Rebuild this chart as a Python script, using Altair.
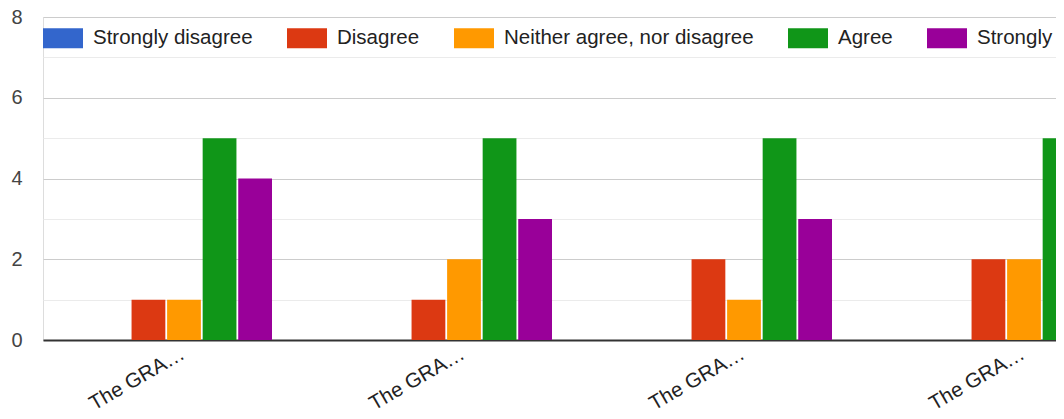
import altair as alt
import pandas as pd

categories = ["Q1", "Q2", "Q3", "Q4"]
tick_labels = ["The GRA…", "The GRA…", "The GRA…", "The GRA…"]
series = ["Strongly disagree", "Disagree", "Neither agree, nor disagree", "Agree", "Strongly agree"]
colors = ["#3366CC", "#DC3912", "#FF9900", "#109618", "#990099"]

strongly_disagree = [0, 0, 0, 0]
disagree = [1, 1, 2, 2]
neither = [1, 2, 1, 2]
agree = [5, 5, 5, 5]
strongly_agree = [4, 3, 3, 3]

values = [strongly_disagree, disagree, neither, agree, strongly_agree]
rows = []
for s, vals in zip(series, values):
    for c, v in zip(categories, vals):
        rows.append({"cat": c, "series": s, "value": v})
df = pd.DataFrame(rows)

label_map = "{" + ",".join(f"'{c}':'{t}'" for c, t in zip(categories, tick_labels)) + "}"

FONT = "Liberation Sans"

chart = alt.Chart(df).mark_bar().encode(
    x=alt.X(
        "cat:N",
        sort=categories,
        scale=alt.Scale(range=[0, 1120], paddingInner=0, paddingOuter=0),
        axis=alt.Axis(
            title=None,
            labelExpr=f"{label_map}[datum.value]",
            labelAngle=-30,
            labelAlign="right",
            labelBaseline="middle",
            labelFontSize=20.5,
            labelFont=FONT,
            labelColor="#222222",
            labelPadding=12,
            ticks=False,
            domainColor="#333333",
            domainWidth=2,
            grid=False,
        ),
    ),
    xOffset=alt.XOffset(
        "series:N",
        sort=series,
        scale=alt.Scale(range=[53, 229], paddingInner=0.05, paddingOuter=0),
    ),
    y=alt.Y(
        "value:Q",
        scale=alt.Scale(domain=[0, 8], nice=False),
        axis=alt.Axis(
            title=None,
            values=[0, 1, 2, 3, 4, 5, 6, 7, 8],
            labelExpr="datum.value % 2 === 0 ? datum.label : ''",
            labelFontSize=20,
            labelFont=FONT,
            labelColor="#444444",
            labelPadding=21,
            ticks=False,
            domain=False,
            grid=True,
            gridColor=alt.condition("datum.value % 2 === 1", alt.value("#ebebeb"), alt.value("#cccccc")),
            gridWidth=1,
        ),
    ),
    color=alt.Color(
        "series:N",
        sort=series,
        scale=alt.Scale(domain=series, range=colors),
        legend=alt.Legend(
            title=None,
            orient="none",
            legendX=0,
            legendY=1,
            direction="horizontal",
            symbolType="M-1,-0.5H1V0.5H-1Z",
            symbolSize=1600,
            symbolStrokeWidth=0,
            symbolOpacity=1,
            labelFontSize=20.5,
            labelFont=FONT,
            labelColor="#222222",
            labelOffset=10,
            labelLimit=500,
            columnPadding=34,
            padding=0,
        ),
    ),
).properties(
    width=1013,
    height=323,
    autosize=alt.AutoSizeParams(type="none"),
    padding={"left": 35, "top": 9, "right": 0, "bottom": 74},
).configure_view(
    stroke=None
).configure(
    background="white"
)

chart.save("out.html", embed_options={"renderer": "svg", "actions": False})
